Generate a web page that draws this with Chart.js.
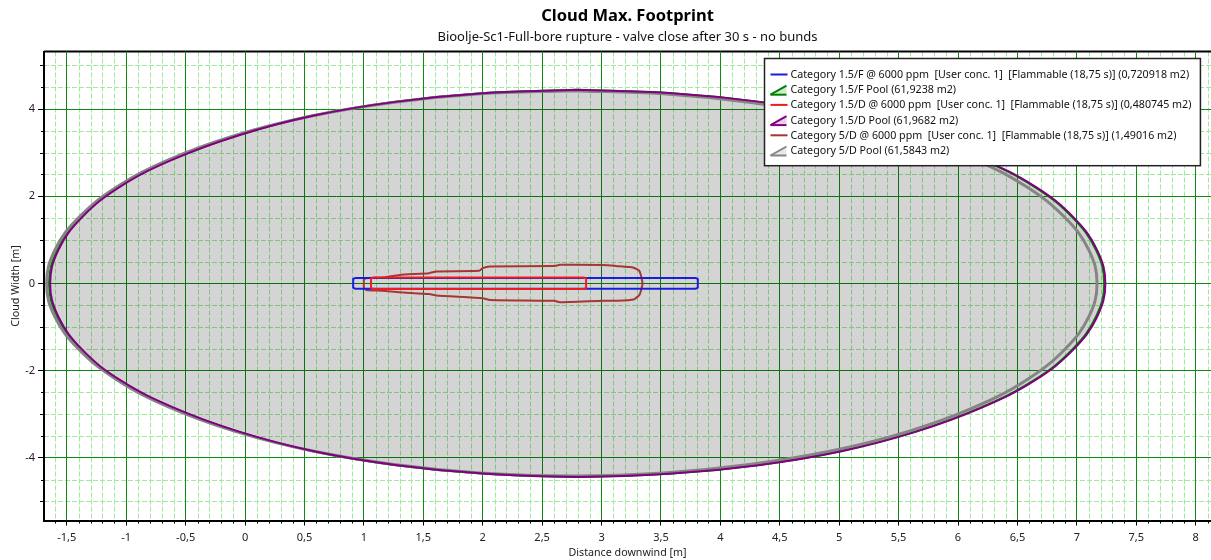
<!DOCTYPE html>
<html>
<head>
<meta charset="utf-8">
<title>Cloud Max. Footprint</title>
<script src="https://cdn.jsdelivr.net/npm/chart.js"></script>
<style>
	html, body { margin: 0; padding: 0; background: #fff; }
</style>
</head>
<body>
<canvas id="footprintChart" width="1211" height="560"></canvas>
<script>
const FONT = '"Noto Sans", "Open Sans", sans-serif';

const seriesLabels = [
	'Category 1.5/F @ 6000 ppm  [User conc. 1]  [Flammable (18,75 s)] (0,720918 m2)',
	'Category 1.5/F Pool (61,9238 m2)',
	'Category 1.5/D @ 6000 ppm  [User conc. 1]  [Flammable (18,75 s)] (0,480745 m2)',
	'Category 1.5/D Pool (61,9682 m2)',
	'Category 5/D @ 6000 ppm  [User conc. 1]  [Flammable (18,75 s)] (1,49016 m2)',
	'Category 5/D Pool (61,5843 m2)'
];
const seriesColors = ['#1c1ce0', '#008000', '#ee1c24', '#800080', '#a83434', '#858585'];

// outlines, [distance downwind, cloud width] in m
const cloudF15 = [[2.0, 0.125], [3.79, 0.125], [3.81, 0.10], [3.81, -0.10], [3.79, -0.125], [0.93, -0.125], [0.91, -0.10], [0.91, 0.10], [0.93, 0.125], [2.0, 0.125]];
const cloudD15 = [[2.0, 0.135], [2.85, 0.135], [2.87, 0.11], [2.87, -0.11], [2.85, -0.13], [1.08, -0.13], [1.06, -0.105], [1.06, 0.11], [1.08, 0.135], [2.0, 0.135]];
const cloudD5 = [[1.00, 0.10], [1.02, 0.12], [1.16, 0.135], [1.30, 0.195], [1.55, 0.235], [1.61, 0.275], [1.97, 0.29], [2.00, 0.35], [2.06, 0.385], [2.60, 0.40], [2.65, 0.425], [3.01, 0.42], [3.13, 0.395], [3.27, 0.36], [3.32, 0.28], [3.345, 0.0],
	[3.32, -0.26], [3.27, -0.37], [3.13, -0.40], [3.01, -0.40], [2.65, -0.435], [2.60, -0.40], [2.06, -0.38], [2.00, -0.34], [1.61, -0.28], [1.55, -0.245], [1.30, -0.205], [1.16, -0.17], [1.02, -0.15], [1.00, -0.10], [1.00, 0.10]];
const poolF15 = [[2.79, 4.44], [3.56, 4.37], [4.31, 4.17], [5.01, 3.85], [5.64, 3.40], [6.19, 2.85], [6.64, 2.22], [6.96, 1.52], [7.16, 0.77], [7.23, 0],
	[7.16, -0.77], [6.96, -1.52], [6.64, -2.22], [6.19, -2.85], [5.64, -3.40], [5.01, -3.85], [4.31, -4.17], [3.56, -4.37], [2.79, -4.44],
	[2.02, -4.37], [1.27, -4.17], [0.57, -3.85], [-0.06, -3.40], [-0.61, -2.85], [-1.06, -2.22], [-1.38, -1.52], [-1.58, -0.77], [-1.65, 0],
	[-1.58, 0.77], [-1.38, 1.52], [-1.06, 2.22], [-0.61, 2.85], [-0.06, 3.40], [0.57, 3.85], [1.27, 4.17], [2.02, 4.37], [2.79, 4.44]];
const poolD15 = [[2.80, 4.44], [3.57, 4.37], [4.32, 4.17], [5.02, 3.85], [5.65, 3.40], [6.20, 2.85], [6.65, 2.22], [6.97, 1.52], [7.17, 0.77], [7.24, 0],
	[7.17, -0.77], [6.97, -1.52], [6.65, -2.22], [6.20, -2.85], [5.65, -3.40], [5.02, -3.85], [4.32, -4.17], [3.57, -4.37], [2.80, -4.44],
	[2.03, -4.37], [1.28, -4.17], [0.58, -3.85], [-0.05, -3.40], [-0.60, -2.85], [-1.05, -2.22], [-1.37, -1.52], [-1.57, -0.77], [-1.64, 0],
	[-1.57, 0.77], [-1.37, 1.52], [-1.05, 2.22], [-0.60, 2.85], [-0.05, 3.40], [0.58, 3.85], [1.28, 4.17], [2.03, 4.37], [2.80, 4.44]];
const poolD5 = [[2.75, 4.42], [3.52, 4.35], [4.26, 4.15], [4.96, 3.83], [5.59, 3.39], [6.14, 2.84], [6.58, 2.21], [6.90, 1.51], [7.10, 0.77], [7.17, 0],
	[7.10, -0.77], [6.90, -1.51], [6.58, -2.21], [6.14, -2.84], [5.59, -3.39], [4.96, -3.83], [4.26, -4.15], [3.52, -4.35], [2.75, -4.42],
	[1.98, -4.35], [1.24, -4.15], [0.54, -3.83], [-0.09, -3.39], [-0.64, -2.84], [-1.08, -2.21], [-1.40, -1.51], [-1.60, -0.77], [-1.67, 0],
	[-1.60, 0.77], [-1.40, 1.51], [-1.08, 2.21], [-0.64, 2.84], [-0.09, 3.39], [0.54, 3.83], [1.24, 4.15], [1.98, 4.35], [2.75, 4.42]];

const xTicks = [-1.5, -1, -0.5, 0, 0.5, 1, 1.5, 2, 2.5, 3, 3.5, 4, 4.5, 5, 5.5, 6, 6.5, 7, 7.5, 8];
const yTicks = [-4, -2, 0, 2, 4];

function outline(points){ return points.map(p => ({ x: p[0], y: p[1] })); }

// dashed minor grid, minor tick marks and the top frame line
const minorGrid = {
	id: 'minorGrid',
	beforeDraw(chart){
		const ctx = chart.ctx, a = chart.chartArea, sx = chart.scales.x, sy = chart.scales.y;
		ctx.save();
		ctx.lineWidth = 1;
		ctx.strokeStyle = '#9fea9f';
		ctx.setLineDash([5, 2]);
		for(let k = Math.ceil(sx.min * 10); k <= sx.max * 10; k++){
			if(k % 5 === 0) continue;
			const px = Math.round(sx.getPixelForValue(k / 10)) + 0.5;
			ctx.beginPath(); ctx.moveTo(px, a.top); ctx.lineTo(px, a.bottom); ctx.stroke();
		}
		for(let k = Math.ceil(sy.min * 2); k <= sy.max * 2; k++){
			if(k % 4 === 0) continue;
			const py = Math.round(sy.getPixelForValue(k / 2)) + 0.5;
			ctx.beginPath(); ctx.moveTo(a.left, py); ctx.lineTo(a.right, py); ctx.stroke();
		}
		ctx.setLineDash([]);
		ctx.strokeStyle = '#000';
		for(let k = Math.ceil(sx.min * 10); k <= sx.max * 10; k++){
			if(k % 5 === 0) continue;
			const px = Math.round(sx.getPixelForValue(k / 10)) + 0.5;
			ctx.beginPath(); ctx.moveTo(px, a.bottom); ctx.lineTo(px, a.bottom + 3); ctx.stroke();
		}
		for(let k = Math.ceil(sy.min * 2); k <= sy.max * 2; k++){
			if(k % 4 === 0) continue;
			const py = Math.round(sy.getPixelForValue(k / 2)) + 0.5;
			const len = k % 2 === 0 ? 4 : 3;
			ctx.beginPath(); ctx.moveTo(a.left - len, py); ctx.lineTo(a.left, py); ctx.stroke();
		}
		ctx.lineWidth = 2;
		ctx.beginPath(); ctx.moveTo(a.left, a.top); ctx.lineTo(a.right, a.top); ctx.stroke();
		ctx.restore();
	}
};

// framed legend inside the plot, top right
const boxLegend = {
	id: 'boxLegend',
	afterDraw(chart){
		const ctx = chart.ctx, a = chart.chartArea, sets = chart.data.datasets;
		ctx.save();
		ctx.font = '10.7px ' + FONT;
		const textW = Math.max(...sets.map(d => ctx.measureText(d.label).width));
		const rowH = 15.2;
		const w = textW + 35, h = sets.length * rowH + 16;
		const x0 = Math.round(a.right - 11 - w) + 0.5, y0 = Math.round(a.top + 6) + 0.5;
		ctx.fillStyle = '#fff';
		ctx.fillRect(x0, y0, w, h);
		ctx.strokeStyle = '#222';
		ctx.lineWidth = 1.5;
		ctx.strokeRect(x0, y0, w, h);
		sets.forEach((d, i) => {
			const cy = y0 + 16 + i * rowH;
			const ix = x0 + 6;
			ctx.strokeStyle = d.borderColor;
			ctx.lineWidth = 2;
			if(d.pool){
				ctx.beginPath(); ctx.moveTo(ix, cy + 5); ctx.lineTo(ix + 16, cy - 4); ctx.lineTo(ix + 16, cy + 5); ctx.closePath();
				ctx.globalAlpha = 0.18; ctx.fillStyle = d.borderColor; ctx.fill(); ctx.globalAlpha = 1;
				ctx.beginPath(); ctx.moveTo(ix, cy + 5); ctx.lineTo(ix + 16, cy - 4); ctx.stroke();
				ctx.beginPath(); ctx.moveTo(ix, cy + 5); ctx.lineTo(ix + 16, cy + 5); ctx.stroke();
			} else {
				ctx.beginPath(); ctx.moveTo(ix, cy); ctx.lineTo(ix + 17, cy); ctx.stroke();
			}
			ctx.fillStyle = '#111';
			ctx.textBaseline = 'middle';
			ctx.fillText(d.label, x0 + 26, cy + 0.5);
		});
		ctx.restore();
	}
};

const datasets = [
	{ label: seriesLabels[0], data: outline(cloudF15), borderColor: seriesColors[0], borderWidth: 2, tension: 0, order: 2 },
	{ label: seriesLabels[1], data: outline(poolF15), borderColor: seriesColors[1], borderWidth: 2, tension: 0.4, fill: 'shape', backgroundColor: 'rgba(0,0,0,0.17)', order: 6, pool: true },
	{ label: seriesLabels[2], data: outline(cloudD15), borderColor: seriesColors[2], borderWidth: 2, tension: 0, order: 1 },
	{ label: seriesLabels[3], data: outline(poolD15), borderColor: seriesColors[3], borderWidth: 2, tension: 0.4, order: 4, pool: true },
	{ label: seriesLabels[4], data: outline(cloudD5), borderColor: seriesColors[4], borderWidth: 2, tension: 0.15, order: 3 },
	{ label: seriesLabels[5], data: outline(poolD5), borderColor: seriesColors[5], borderWidth: 3, tension: 0.4, order: 5, pool: true }
];

const ctx = document.getElementById('footprintChart').getContext('2d');
new Chart(ctx, {
	type: 'line',
	data: { datasets: datasets },
	options: {
		responsive: false,
		animation: false,
		events: [],
		layout: { padding: 0 },
		elements: { point: { radius: 0, hoverRadius: 0 }, line: { borderJoinStyle: 'round', fill: false } },
		scales: {
			x: {
				type: 'linear', min: -1.692, max: 8.129,
				afterBuildTicks: axis => { axis.ticks = xTicks.map(v => ({ value: v })); },
				afterFit: axis => { axis.height = 39.5; },
				ticks: { color: '#222', padding: 6, font: { family: FONT, size: 11 }, callback: v => String(v).replace('.', ',') },
				grid: { color: '#108a10', lineWidth: 1, tickColor: '#000', tickLength: 5 },
				border: { color: '#000', width: 2 },
				title: { display: true, text: 'Distance downwind [m]', color: '#222', font: { family: FONT, size: 10.7 }, padding: { top: 0, bottom: 1 } }
			},
			y: {
				type: 'linear', min: -5.44, max: 5.32,
				afterBuildTicks: axis => { axis.ticks = yTicks.map(v => ({ value: v })); },
				afterFit: axis => { axis.width = 44; },
				ticks: { color: '#222', padding: 3, font: { family: FONT, size: 11 } },
				grid: { color: '#108a10', lineWidth: 1, tickColor: '#000', tickLength: 6 },
				border: { color: '#000', width: 2 },
				title: { display: true, text: 'Cloud Width [m]', color: '#222', font: { family: FONT, size: 10.7 }, padding: { top: 10, bottom: 0 } }
			}
		},
		plugins: {
			legend: { display: false },
			tooltip: { enabled: false },
			title: { display: true, fullSize: false, text: 'Cloud Max. Footprint', color: '#000', font: { family: FONT, size: 16.5, weight: 'bold' }, padding: { top: 6, bottom: 2 } },
			subtitle: { display: true, fullSize: false, text: 'Bioolje-Sc1-Full-bore rupture - valve close after 30 s - no bunds', color: '#111', font: { family: FONT, size: 13 }, padding: { top: 1.5, bottom: 6.6 } }
		}
	},
	plugins: [minorGrid, boxLegend]
});
</script>
</body>
</html>
